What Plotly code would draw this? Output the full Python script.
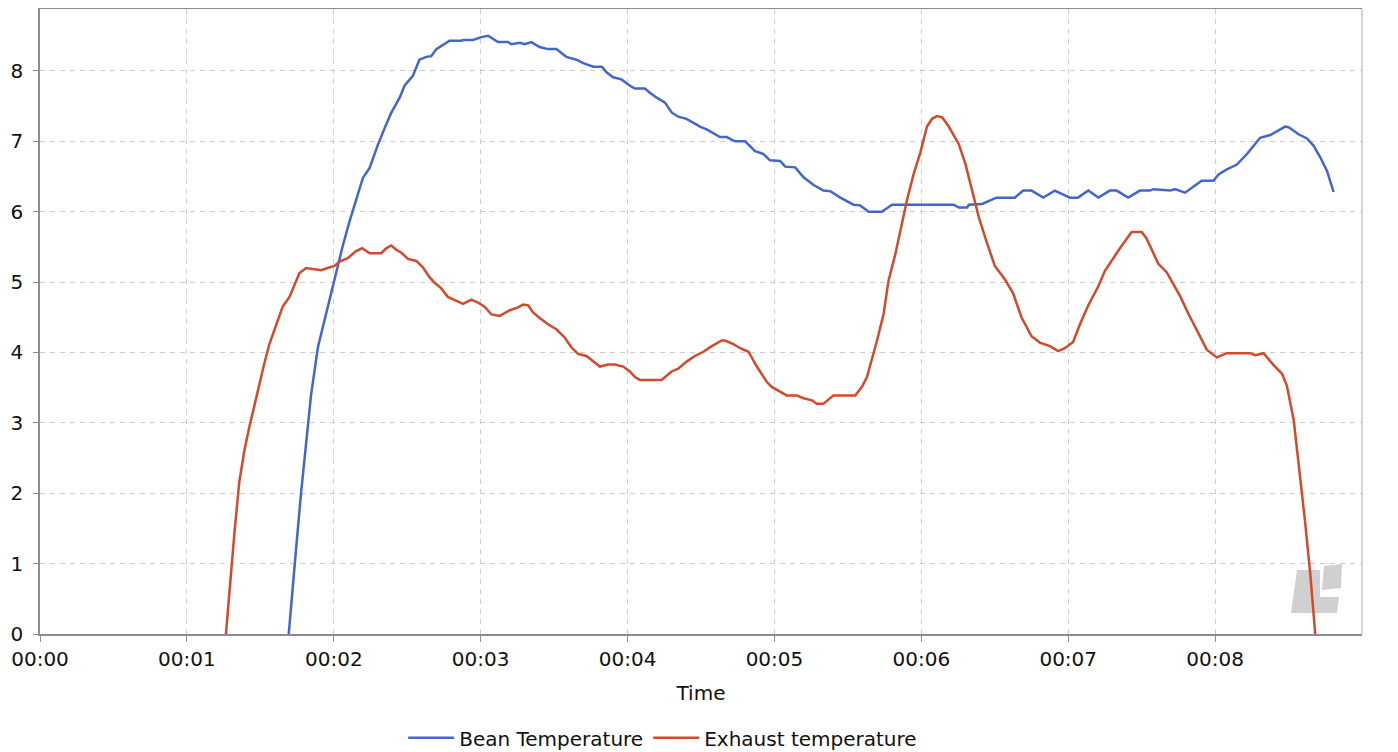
import plotly.graph_objects as go

# roast log, time in seconds
bean_t = [101.6, 103.2, 104.6, 106.6, 108.7, 110.7, 113.5, 116.2, 118.9, 121.0,
          123.7, 126.4, 129.1, 131.9, 134.6, 138.0, 140.7, 143.4, 146.9, 148.9,
          152.3, 155.0, 157.8, 159.8, 161.9, 165.3, 167.3, 172.1, 172.8, 176.9,
          180.3, 183.0, 187.1, 191.2, 192.5, 196.0, 198.0, 200.7, 204.1, 207.5,
          210.9, 215.0, 219.1, 221.9, 226.0, 229.5, 231.4, 234.1, 237.5, 241.0,
          243.0, 247.1, 249.1, 251.9, 255.3, 258.0, 260.7, 264.1, 269.6, 272.3,
          275.0, 277.8, 280.5, 283.9, 288.0, 292.1, 295.5, 298.2, 302.3, 304.4,
          308.5, 311.9, 316.0, 320.0, 322.8, 326.9, 332.3, 335.0, 338.5, 343.9,
          348.0, 373.2, 375.3, 378.7, 379.4, 384.8, 390.7, 398.2, 401.6, 405.0,
          409.8, 414.5, 420.7, 424.0, 428.2, 432.3, 437.0, 439.8, 444.5, 449.3,
          453.4, 454.8, 461.6, 463.6, 467.7, 471.1, 474.5, 479.3, 481.4, 484.8,
          488.9, 493.0, 498.4, 502.5, 508.6, 510.0, 514.1, 517.5, 520.2, 523.0,
          525.7, 528.4]
bean_y = [0.00, 0.59, 1.21, 1.99, 2.72, 3.39, 4.07, 4.46, 4.82, 5.13,
          5.52, 5.86, 6.17, 6.48, 6.62, 6.95, 7.18, 7.40, 7.62, 7.79,
          7.93, 8.16, 8.20, 8.21, 8.31, 8.39, 8.43, 8.43, 8.44, 8.44,
          8.48, 8.50, 8.41, 8.41, 8.38, 8.40, 8.38, 8.41, 8.34, 8.31,
          8.31, 8.20, 8.16, 8.11, 8.06, 8.06, 7.98, 7.91, 7.88, 7.79,
          7.75, 7.75, 7.69, 7.62, 7.55, 7.41, 7.35, 7.32, 7.21, 7.17,
          7.11, 7.06, 7.06, 7.00, 7.00, 6.86, 6.82, 6.73, 6.72, 6.64,
          6.63, 6.49, 6.38, 6.30, 6.29, 6.20, 6.10, 6.09, 6.00, 6.00,
          6.10, 6.10, 6.06, 6.06, 6.10, 6.11, 6.20, 6.20, 6.30, 6.30,
          6.20, 6.30, 6.20, 6.20, 6.30, 6.20, 6.30, 6.30, 6.20, 6.30,
          6.30, 6.32, 6.30, 6.32, 6.27, 6.36, 6.44, 6.44, 6.53, 6.60,
          6.67, 6.82, 7.05, 7.09, 7.21, 7.20, 7.10, 7.04, 6.94, 6.77,
          6.58, 6.28]

exhaust_t = [75.95, 77.3, 79.4, 81.4, 83.5, 85.5, 87.5, 89.6, 91.6, 93.7,
             96.4, 99.1, 101.9, 103.9, 106.0, 108.7, 111.4, 114.8, 117.5, 120.3,
             122.3, 125.7, 129.1, 131.6, 134.6, 139.4, 141.4, 143.5, 145.5, 147.5,
             150.3, 153.7, 156.4, 159.1, 161.2, 163.9, 166.6, 170.0, 172.8, 176.2,
             178.9, 181.6, 184.4, 187.8, 191.9, 195.3, 197.3, 199.4, 201.4, 204.1,
             207.5, 210.9, 214.4, 217.1, 219.8, 223.2, 225.95, 228.7, 232.1, 234.8,
             238.2, 240.95, 243.0, 245.0, 253.9, 258.0, 260.7, 264.1, 267.5, 271.0,
             274.4, 278.5, 279.8, 283.2, 286.0, 289.4, 292.8, 296.9, 298.9, 302.3,
             305.0, 309.1, 311.9, 315.3, 317.3, 320.0, 322.1, 324.1, 333.0, 335.7,
             337.8, 339.8, 341.9, 344.6, 346.6, 349.4, 352.1, 354.1, 356.9, 359.6,
             362.3, 364.4, 366.4, 368.5, 371.2, 375.3, 378.0, 380.7, 383.5, 386.6,
             390.0, 394.1, 397.5, 400.9, 405.0, 408.4, 412.5, 415.9, 418.6, 422.0,
             424.8, 428.2, 432.3, 435.0, 437.7, 441.1, 445.9, 450.0, 452.0, 456.8,
             460.2, 465.7, 469.1, 473.2, 476.6, 480.7, 484.8, 494.3, 496.4, 499.8,
             503.9, 507.3, 509.3, 512.1, 514.8, 516.8, 518.9, 520.9]
exhaust_y = [0.00, 0.59, 1.43, 2.16, 2.61, 2.94, 3.25, 3.56, 3.84, 4.12,
             4.40, 4.65, 4.79, 4.96, 5.13, 5.20, 5.19, 5.17, 5.20, 5.23,
             5.29, 5.34, 5.44, 5.48, 5.41, 5.41, 5.48, 5.52, 5.46, 5.42,
             5.33, 5.30, 5.21, 5.07, 4.99, 4.91, 4.79, 4.73, 4.69, 4.75,
             4.71, 4.65, 4.54, 4.52, 4.60, 4.64, 4.68, 4.67, 4.57, 4.49,
             4.40, 4.33, 4.21, 4.07, 3.98, 3.95, 3.87, 3.80, 3.83, 3.83,
             3.80, 3.73, 3.65, 3.61, 3.61, 3.73, 3.77, 3.87, 3.95, 4.01,
             4.09, 4.17, 4.17, 4.12, 4.06, 4.01, 3.80, 3.58, 3.51, 3.44,
             3.39, 3.39, 3.35, 3.32, 3.27, 3.27, 3.33, 3.39, 3.39, 3.51,
             3.65, 3.89, 4.17, 4.55, 5.02, 5.40, 5.83, 6.16, 6.54, 6.84,
             7.21, 7.32, 7.36, 7.34, 7.21, 6.96, 6.68, 6.30, 5.92, 5.58,
             5.23, 5.04, 4.84, 4.50, 4.23, 4.14, 4.09, 4.02, 4.06, 4.15,
             4.40, 4.67, 4.94, 5.16, 5.31, 5.48, 5.71, 5.71, 5.62, 5.26,
             5.14, 4.80, 4.55, 4.26, 4.04, 3.93, 3.99, 3.99, 3.96, 3.99,
             3.82, 3.70, 3.53, 3.04, 2.21, 1.58, 0.84, 0.00]

tick_vals = [0, 60, 120, 180, 240, 300, 360, 420, 480]
tick_text = ['00:00', '00:01', '00:02', '00:03', '00:04', '00:05', '00:06', '00:07', '00:08']

BLUE = '#4266CC'
RED = '#D3492A'

fig = go.Figure()
fig.add_trace(go.Scatter(x=bean_t, y=bean_y, mode='lines', name='Bean Temperature',
                         line=dict(color=BLUE, width=2.5)))
fig.add_trace(go.Scatter(x=exhaust_t, y=exhaust_y, mode='lines', name='Exhaust temperature',
                         line=dict(color=RED, width=2.5)))

# watermark logo, given in screen pixels of the plot area (40..1362, 9..634)
def px(xp, yp):
    return (xp - 40) / 1322, (634 - yp) / 625

def path(pts):
    s = ''
    for i, (a, b) in enumerate(pts):
        x, y = px(a, b)
        s += ('M' if i == 0 else 'L') + '%.4f,%.4f ' % (x, y)
    return s + 'Z'

fig.add_shape(type='path', xref='paper', yref='paper', layer='below',
              path=path([(1297, 570), (1320, 570), (1320, 597), (1339, 597),
                         (1337, 613), (1291, 613)]),
              fillcolor='#d0d0d0', line=dict(width=0))
fig.add_shape(type='path', xref='paper', yref='paper', layer='below',
              path=path([(1324, 566), (1342, 564), (1341, 588), (1322, 590)]),
              fillcolor='#d0d0d0', line=dict(width=0))
# right frame edge, lighter than the axes
fig.add_shape(type='line', xref='paper', yref='paper', x0=1, x1=1, y0=0, y1=1,
              line=dict(color='#c8c8c8', width=1.5))

fig.update_layout(
    width=1398, height=752,
    margin=dict(l=32, r=44, t=1, b=126),
    paper_bgcolor='white', plot_bgcolor='white',
    font=dict(family='DejaVu Sans', size=20, color='#111111'),
    showlegend=True,
    legend=dict(orientation='h', x=0.471, xanchor='center', y=-0.166, yanchor='middle',
                font=dict(size=20), itemwidth=46),
    xaxis=dict(range=[0, 540], tickvals=tick_vals, ticktext=tick_text,
               showgrid=True, gridcolor='#cccccc', griddash='5px,5px', gridwidth=1,
               showline=True, linecolor='#8c8c8c', linewidth=1.5, mirror=True,
               ticks='outside', ticklen=6, tickcolor='#8c8c8c',
               zeroline=False, automargin=False,
               title=dict(text='Time', standoff=16, font=dict(size=20))),
    yaxis=dict(range=[0, 8.88], dtick=1,
               showgrid=True, gridcolor='#cccccc', griddash='5px,5px', gridwidth=1,
               showline=True, linecolor='#8c8c8c', linewidth=1.5,
               ticks='outside', ticklen=5, tickcolor='#8c8c8c',
               ticklabelstandoff=6, zeroline=False, automargin=False),
)

fig.write_html('out.html')
